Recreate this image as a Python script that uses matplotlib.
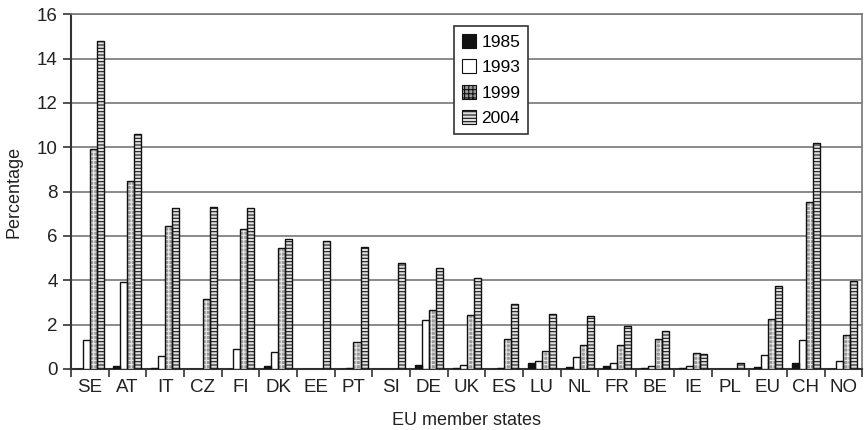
import matplotlib.pyplot as plt
import numpy as np

countries = ['SE', 'AT', 'IT', 'CZ', 'FI', 'DK', 'EE', 'PT', 'SI', 'DE', 'UK',
             'ES', 'LU', 'NL', 'FR', 'BE', 'IE', 'PL', 'EU', 'CH', 'NO']
y1985 = [0, 0.15, 0.03, 0, 0, 0.15, 0, 0, 0, 0.2, 0.02,
         0, 0.26, 0.1, 0.14, 0.02, 0.02, 0, 0.07, 0.27, 0]
y1993 = [1.32, 3.94, 0.59, 0, 0.89, 0.75, 0, 0.05, 0, 2.2, 0.18,
         0.05, 0.38, 0.53, 0.29, 0.14, 0.12, 0, 0.65, 1.32, 0.35]
y1999 = [9.9, 8.47, 6.45, 3.16, 6.3, 5.45, 0, 1.23, 0, 2.64, 2.42,
         1.36, 0.79, 1.07, 1.1, 1.35, 0.71, 0, 2.25, 7.55, 1.51]
y2004 = [14.8, 10.58, 7.28, 7.3, 7.25, 5.87, 5.76, 5.52, 4.77, 4.57, 4.12,
         2.92, 2.47, 2.41, 1.95, 1.71, 0.66, 0.29, 3.74, 10.2, 3.97]
years = ['1985', '1993', '1999', '2004']

plt.rcParams['font.family'] = ['Liberation Sans', 'DejaVu Sans']
plt.rcParams['hatch.linewidth'] = 0.8
fig = plt.figure(figsize=(8.64, 4.3), dpi=100)
ax = fig.add_axes([0.082, 0.142, 0.916, 0.825])

x = np.arange(len(countries))
w = 0.186
offs = np.array([-1.5, -0.5, 0.5, 1.5]) * w
series = [y1985, y1993, y1999, y2004]
styles = [
    dict(facecolor='#111111', hatch=None, hcol='#111111'),
    dict(facecolor='white', hatch=None, hcol='white'),
    dict(facecolor='#9a9a9a', hatch='++++', hcol='#e8e8e8'),
    dict(facecolor='#e0e0e0', hatch='-----', hcol='#1a1a1a'),
]
handles = []
for vals, off, st, lab in zip(series, offs, styles, years):
    # fill + hatch first, then a crisp black outline on top
    ax.bar(x + off, vals, w, color=st['facecolor'], edgecolor=st['hcol'],
           hatch=st['hatch'], linewidth=0, zorder=3)
    ax.bar(x + off, vals, w, facecolor='none', edgecolor='#111111',
           linewidth=1.0, zorder=4)
    h = plt.Rectangle((0, 0), 1, 1, facecolor=st['facecolor'],
                      edgecolor=st['hcol'], hatch=st['hatch'], linewidth=0)
    handles.append(h)

ax.set_xlim(-0.5, len(countries) - 0.5)
ax.set_ylim(0, 16)
ax.set_yticks(np.arange(0, 17, 2))
ax.yaxis.grid(True, color='#777777', linewidth=1.2, zorder=0)
ax.set_axisbelow(True)

ax.set_xticks(x)
ax.set_xticklabels(countries, fontsize=13.5, color='#222222')
ax.set_xticks(np.arange(-0.5, len(countries)), minor=True)
ax.tick_params(axis='x', which='major', length=0, pad=7)
ax.tick_params(axis='x', which='minor', length=6, width=1.2, color='#333333')
ax.tick_params(axis='y', length=6, width=1.2, color='#333333',
               labelsize=13.5, labelcolor='#222222')

for s in ['left', 'bottom']:
    ax.spines[s].set_linewidth(1.5)
    ax.spines[s].set_color('#333333')
for s in ['top', 'right']:
    ax.spines[s].set_linewidth(1.2)
    ax.spines[s].set_color('#777777')

ax.set_ylabel('Percentage', fontsize=13, color='#222222', labelpad=10)
ax.set_xlabel('EU member states', fontsize=13, color='#222222', labelpad=12)

leg = ax.legend(handles, years, loc='upper center', bbox_to_anchor=(0.531, 0.967),
                fontsize=12.5, frameon=True, fancybox=False, framealpha=1,
                handlelength=0.85, handleheight=0.85, handletextpad=0.3,
                borderpad=0.45, labelspacing=0.55, borderaxespad=0)
leg.get_frame().set_edgecolor('#333333')
leg.get_frame().set_linewidth(1.2)
for h in leg.legend_handles:
    h.set_edgecolor('#111111')
    h.set_linewidth(0.8)

fig.savefig('out.png', dpi=100)
